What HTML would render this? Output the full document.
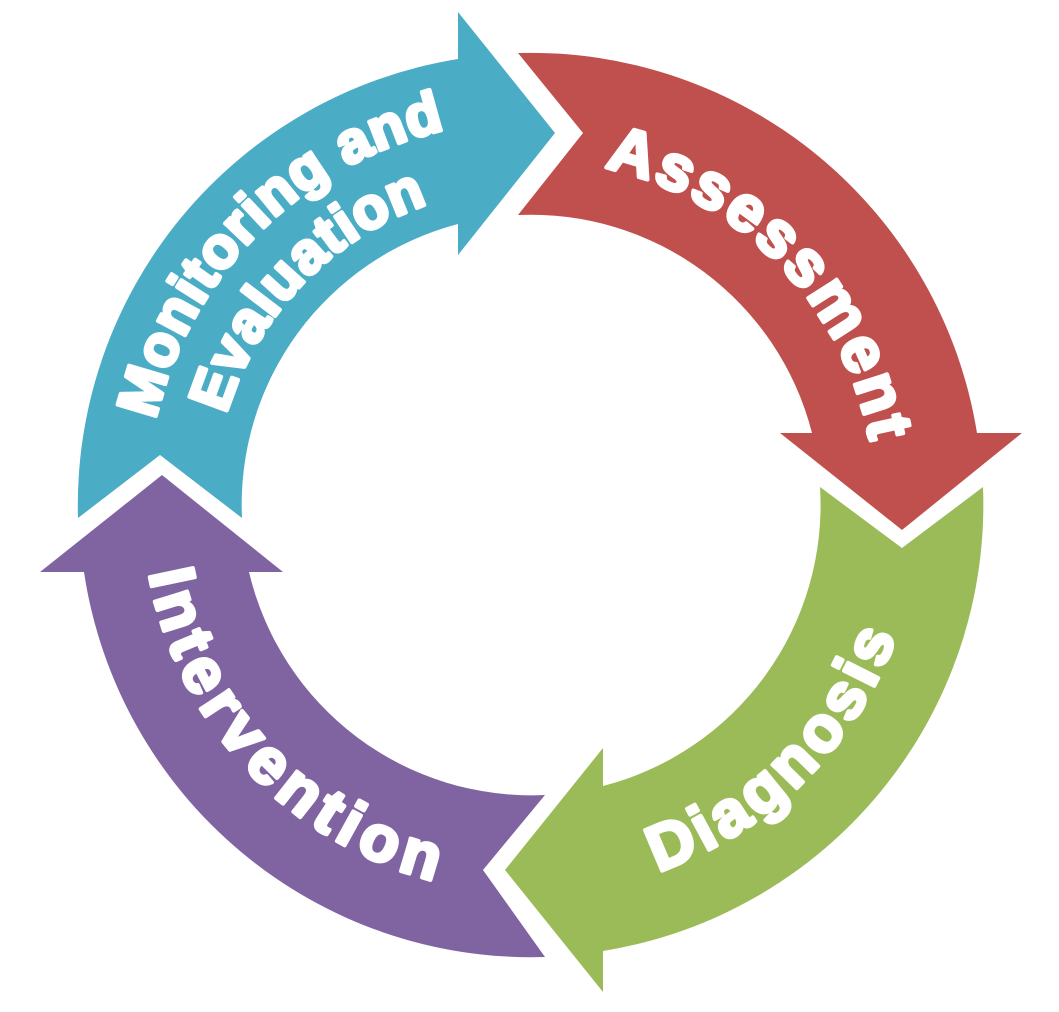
<!DOCTYPE html>
<html><head><meta charset="utf-8"><style>html,body{margin:0;padding:0;background:#fff}svg{display:block}</style></head>
<body>
<svg width="1059" height="1012" viewBox="0 0 1059 1012" xmlns="http://www.w3.org/2000/svg">
<defs>
<path id="pA" d="M471.1,165.2 A345,345 0 0 1 870.8,564.9" fill="none"/>
<path id="pD" d="M463.7,887.1 A388,388 0 0 0 913.1,437.6" fill="none"/>
<path id="pI" d="M148.9,437.6 A388,388 0 0 0 598.4,887.1" fill="none"/>
<path id="pM1" d="M151.8,571.9 A385,385 0 0 1 597.9,125.8" fill="none"/>
<path id="pM2" d="M217.8,560.2 A318,318 0 0 1 586.2,191.8" fill="none"/>
</defs>
<path fill="#4BACC6" d="M78,518 A452,452 0 0 1 458,59 L458,12 L555,133 L458,255 L458,224 A290,290 0 0 0 242,518 L160,455 Z"/>
<path fill="#C0504D" d="M518,53 A452,452 0 0 1 977,433 L1022,433 L902,530 L780,433 L812,433 A290,290 0 0 0 518,215 L583,133 Z"/>
<path fill="#9BBB59" d="M983,487 A452,452 0 0 1 603,951 L603,992 L505,870 L603,748 L603,786 A290,290 0 0 0 820,487 L902,548 Z"/>
<path fill="#8064A2" d="M545,957 A452,452 0 0 1 84,572 L40,572 L162,475 L283,572 L249,572 A290,290 0 0 0 545,795 L483,870 Z"/>
<g font-family="'Liberation Sans', Arial, sans-serif" font-weight="bold" fill="#fff" stroke="#fff" stroke-width="4" stroke-linejoin="round" text-anchor="middle">
<text font-size="64" letter-spacing="3"><textPath href="#pA" startOffset="51%">Assessment</textPath></text>
<text font-size="64" letter-spacing="5"><textPath href="#pD" startOffset="50%">Diagnosis</textPath></text>
<text font-size="64" letter-spacing="7"><textPath href="#pI" startOffset="48.5%">Intervention</textPath></text>
<text font-size="58" letter-spacing="1"><textPath href="#pM1" startOffset="50%">Monitoring and</textPath></text>
<text font-size="58" letter-spacing="1"><textPath href="#pM2" startOffset="49%">Evaluation</textPath></text>
</g>
</svg>
</body></html>
